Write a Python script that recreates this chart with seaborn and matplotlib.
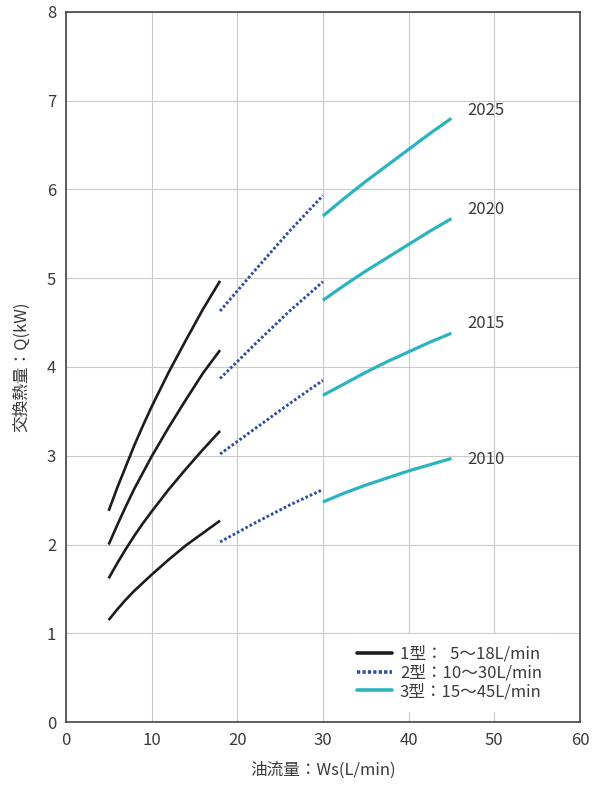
import matplotlib
matplotlib.use("Agg")
import matplotlib.pyplot as plt
from matplotlib.lines import Line2D
import seaborn as sns
import pandas as pd

sns.set_theme(style="white")
plt.rcParams['font.family'] = ['Noto Sans CJK JP', 'DejaVu Sans']

years = ["2010", "2015", "2020", "2025"]

# Type 1 (5-18 L/min)
x_t1 = [5, 6, 7, 8, 9, 10, 12, 14, 16, 18]
t1_2010 = [1.15, 1.27, 1.38, 1.48, 1.57, 1.66, 1.83, 1.99, 2.13, 2.27]
t1_2015 = [1.62, 1.79, 1.95, 2.10, 2.24, 2.37, 2.62, 2.85, 3.07, 3.28]
t1_2020 = [2.00, 2.22, 2.43, 2.63, 2.81, 2.99, 3.32, 3.63, 3.93, 4.19]
t1_2025 = [2.38, 2.64, 2.88, 3.12, 3.34, 3.55, 3.94, 4.30, 4.65, 4.97]

# Type 2 (10-30 L/min, drawn 18-30)
x_t2 = [18, 22, 26, 30]
t2_2010 = [2.03, 2.24, 2.44, 2.62]
t2_2015 = [3.02, 3.30, 3.58, 3.85]
t2_2020 = [3.87, 4.25, 4.62, 4.96]
t2_2025 = [4.63, 5.08, 5.52, 5.93]

# Type 3 (15-45 L/min, drawn 30-45)
x_t3 = [30, 32.5, 35, 37.5, 40, 42.5, 45]
t3_2010 = [2.48, 2.58, 2.67, 2.75, 2.83, 2.90, 2.97]
t3_2015 = [3.68, 3.81, 3.94, 4.06, 4.17, 4.28, 4.38]
t3_2020 = [4.75, 4.92, 5.08, 5.23, 5.38, 5.53, 5.67]
t3_2025 = [5.70, 5.90, 6.09, 6.27, 6.45, 6.63, 6.80]

label_y = [2.96, 4.49, 5.77, 6.89]
legend_labels = ["1型：  5～18L/min", "2型：10～30L/min", "3型：15～45L/min"]
x_ticks = [0, 10, 20, 30, 40, 50, 60]
y_ticks = [0, 1, 2, 3, 4, 5, 6, 7, 8]

c_black = "#1c1c1c"
c_blue = "#2d4f9e"
c_teal = "#2bb3bf"
c_text = "#3a3a3a"

fig = plt.figure(figsize=(5.93, 7.85), dpi=100)
ax = fig.add_axes([0.111, 0.080, 0.867, 0.905])

types = [
    (x_t1, [t1_2010, t1_2015, t1_2020, t1_2025], dict(color=c_black, lw=1.9)),
    (x_t2, [t2_2010, t2_2015, t2_2020, t2_2025], dict(color=c_blue, lw=2.1, dashes=(0.9, 0.75))),
    (x_t3, [t3_2010, t3_2015, t3_2020, t3_2025], dict(color=c_teal, lw=2.3)),
]
for xs, series, style in types:
    for yr, ys in zip(years, series):
        df = pd.DataFrame({"x": xs, "y": ys})
        kw = dict(style)
        dashes = kw.pop("dashes", None)
        sns.lineplot(data=df, x="x", y="y", ax=ax, color=kw["color"],
                     linewidth=kw["lw"], estimator=None, sort=True,
                     legend=False)
        line = ax.lines[-1]
        line.set_solid_joinstyle("round")
        if dashes is not None:
            line.set_dashes(dashes)
            line.set_dash_capstyle("butt")
        else:
            line.set_solid_capstyle("butt")

for yr, ly in zip(years, label_y):
    ax.text(46.9, ly, yr, fontsize=12, color=c_text, va="center", ha="left")

ax.set_xlim(0, 60)
ax.set_ylim(0, 8)
ax.set_xticks(x_ticks)
ax.set_yticks(y_ticks)
ax.grid(True, color="#c9c9c9", linewidth=0.8)
ax.set_axisbelow(True)
ax.tick_params(axis="both", length=0, labelsize=12, labelcolor=c_text, pad=7)
for sp in ax.spines.values():
    sp.set_color("#444444")
    sp.set_linewidth(1.2)

ax.set_xlabel("油流量：Ws(L/min)", fontsize=12, color=c_text, labelpad=9)
ax.set_ylabel("交換熱量：Q(kW)", fontsize=12, color=c_text, labelpad=12)

handles = [
    Line2D([0], [0], color=c_black, lw=2.6),
    Line2D([0], [0], color=c_blue, lw=2.6, dashes=(0.9, 0.6)),
    Line2D([0], [0], color=c_teal, lw=2.6),
]
leg = ax.legend(handles, legend_labels, loc="lower right",
                bbox_to_anchor=(0.965, 0.003), frameon=True, fontsize=12,
                handlelength=2.1, handletextpad=0.5, labelspacing=0.1,
                borderpad=0.7)
leg.get_frame().set_facecolor("white")
leg.get_frame().set_edgecolor("none")
leg.get_frame().set_alpha(1)
for t in leg.get_texts():
    t.set_color(c_text)

fig.savefig("out.png", dpi=100)
